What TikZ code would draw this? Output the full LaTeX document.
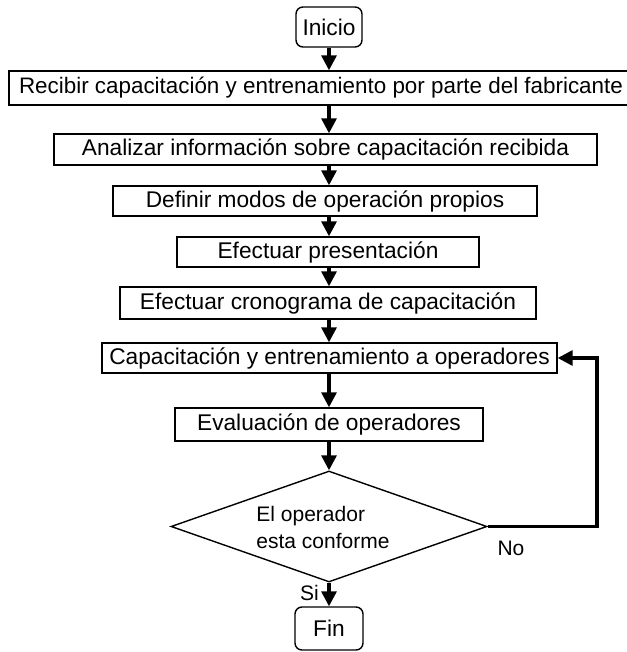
\documentclass[tikz,border=0pt]{standalone}
\usepackage{fontspec}
\setmainfont{Liberation Sans}
\usetikzlibrary{arrows.meta,shapes.geometric}
\begin{document}
\begin{tikzpicture}[x=1pt,y=-1pt,
  stepbox/.style={draw,line width=1.4pt,inner sep=0pt,font=\fontsize{22.7}{26}\selectfont},
  term/.style={stepbox,rounded corners=7pt},
  decision/.style={draw,diamond,line width=1.4pt,inner sep=0pt},
  lbl/.style={inner sep=0pt,font=\fontsize{21}{27}\selectfont},
  flow/.style={line width=3.2pt,-{Triangle[width=15pt,length=15pt]}},
]
\useasboundingbox (0,0) rectangle (626,652);
\coordinate (axis) at (329,0);
\coordinate (loopx) at (597,0);

\node[term,minimum width=66pt,minimum height=40pt] (inicio) at (329,27) {Inicio};
\node[stepbox,minimum width=624pt,minimum height=34pt,font=\fontsize{22.4}{26}\selectfont] (b1) at (321,88)
  {Recibir capacitación y entrenamiento por parte del fabricante};
\node[stepbox,minimum width=543pt,minimum height=31pt] (b2) at (325.5,149.5)
  {Analizar información sobre capacitación recibida};
\node[stepbox,minimum width=424pt,minimum height=30pt] (b3) at (325,201)
  {Definir modos de operación propios};
\node[stepbox,minimum width=302pt,minimum height=30pt] (b4) at (328,252)
  {Efectuar presentación};
\node[stepbox,minimum width=416pt,minimum height=32pt] (b5) at (328,303)
  {Efectuar cronograma de capacitación};
\node[stepbox,minimum width=455pt,minimum height=30pt] (b6) at (329.5,358)
  {Capacitación y entrenamiento a operadores};
\node[stepbox,minimum width=308pt,minimum height=33pt] (b7) at (329,424.5)
  {Evaluación de operadores};
\node[decision,minimum width=316pt,minimum height=111pt] (dec) at (329,526.5) {};
\node[lbl,align=left] (q) at (323,527) {El operador\\esta conforme};
\node[term,minimum width=68pt,minimum height=43pt] (fin) at (329,628.5) {Fin};

\draw[flow] (axis |- inicio.south) -- (axis |- b1.north);
\draw[flow] (axis |- b1.south) -- (axis |- b2.north);
\draw[flow] (axis |- b2.south) -- (axis |- b3.north);
\draw[flow] (axis |- b3.south) -- (axis |- b4.north);
\draw[flow] (axis |- b4.south) -- (axis |- b5.north);
\draw[flow] (axis |- b5.south) -- (axis |- b6.north);
\draw[flow] (axis |- b6.south) -- (axis |- b7.north);
\draw[flow] (axis |- b7.south) -- (dec.north);
\draw[flow] (dec.south) -- (fin.north);
\draw[flow] (dec.east) -- (dec.east -| loopx) |- (b6.east);

\node[lbl] (no) at (511,548) {No};
\node[lbl,anchor=east] (si) at (319,593) {Si};
\end{tikzpicture}
\end{document}
